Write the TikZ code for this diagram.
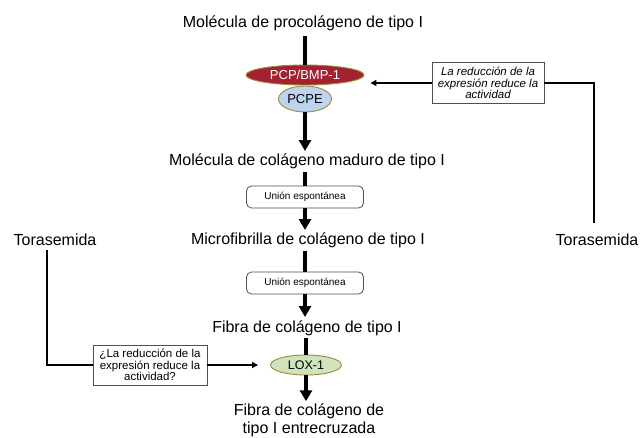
\documentclass[tikz,border=0pt]{standalone}
\usepackage{fontspec}
\setmainfont{Liberation Sans}
\usetikzlibrary{arrows.meta,shapes.geometric}
\definecolor{pcpred}{HTML}{A4212F}
\definecolor{pcpeblue}{HTML}{BDD5EC}
\definecolor{loxgreen}{HTML}{CFE3BC}
\definecolor{ellborder}{HTML}{9C8B3C}
\definecolor{boxborder}{HTML}{505050}
\begin{document}
\begin{tikzpicture}[x=1pt,y=-1pt,
  mainlbl/.style={font=\fontsize{16}{18}\selectfont, inner sep=0pt},
  axisline/.style={line width=3.2pt},
  axisarrow/.style={line width=3.2pt, -{Triangle[length=11pt,width=12pt]}},
  sideline/.style={line width=1.4pt},
  sidearrow/.style={line width=1.4pt, -{Triangle[length=6pt,width=6pt]}},
  ubox/.style={draw=boxborder, rounded corners=5pt, line width=0.8pt, minimum width=117pt, minimum height=22pt, font=\fontsize{10}{12}\selectfont, inner sep=0pt},
  qbox/.style={draw=boxborder, line width=0.8pt, align=center, font=\fontsize{11.5}{11.5}\selectfont, inner sep=1pt, fill=white},
  ell/.style={ellipse, draw=ellborder, line width=0.9pt, inner sep=0pt}
]
\useasboundingbox (0,0) rectangle (642,438);

% main column
\node[mainlbl, anchor=base] (t1) at (303,28) {Molécula de procolágeno de tipo I};
\node[ell, fill=pcpred, minimum width=118pt, minimum height=20pt, text=white, font=\fontsize{13}{13}\selectfont] (pcp) at (305,75) {PCP/BMP-1};
\node[ell, fill=pcpeblue, minimum width=53pt, minimum height=26pt, font=\fontsize{13}{13}\selectfont] (pcpe) at (305,99) {PCPE};
\node[mainlbl, anchor=base] (m2) at (307,166) {Molécula de colágeno maduro de tipo I};
\node[ubox] (b1) at (305,197) {Unión espontánea};
\node[mainlbl, anchor=base] (m3) at (308,245) {Microfibrilla de colágeno de tipo I};
\node[ubox] (b2) at (305,283) {Unión espontánea};
\node[mainlbl, anchor=base] (m4) at (307,332) {Fibra de colágeno de tipo I};
\node[ell, fill=loxgreen, minimum width=71pt, minimum height=20pt, font=\fontsize{12.5}{12.5}\selectfont] (lox) at (306,365) {LOX-1};
\node[mainlbl, align=center] (m5) at (309,420) {Fibra de colágeno de\\tipo I entrecruzada};

% side elements
\node[mainlbl, anchor=base] (tl) at (55,246) {Torasemida};
\node[mainlbl, anchor=base] (tr) at (597,246) {Torasemida};
\node[qbox, minimum width=114pt, minimum height=40pt] (ql) at (150,365) {¿La reducción de la\\expresión reduce la\\actividad?};
\node[qbox, minimum width=112pt, minimum height=41pt, font=\fontsize{11.5}{11.5}\selectfont\itshape] (qr) at (488,83) {La reducción de la\\expresión reduce la\\actividad};

% axis connectors
\draw[axisline, shorten <=4pt] (t1.south -| pcp.north) -- (pcp.north);
\draw[axisarrow, shorten >=3pt] (pcpe.south) -- (pcpe.south |- m2.north);
\draw[axisline, shorten <=2pt] (m2.south -| b1.north) -- (b1.north);
\draw[axisarrow, shorten >=3pt] (b1.south) -- (b1.south |- m3.north);
\draw[axisline, shorten <=2pt] (m3.south -| b2.north) -- (b2.north);
\draw[axisarrow, shorten >=3pt] (b2.south) -- (b2.south |- m4.north);
\draw[axisline, shorten <=2pt] (m4.south -| lox.north) -- (lox.north);
\draw[axisarrow, shorten >=2pt] (lox.south) -- (lox.south |- m5.north);

% side connectors
\draw[sideline, shorten <=4pt] ([xshift=-8pt]tl.south) |- (ql.west);
\draw[sidearrow, shorten >=12pt] (ql.east) -- (lox.west);
\draw[sideline, shorten <=11pt] ([xshift=-3pt]tr.north) |- (qr.east);
\draw[sidearrow] (qr.west) -- ([xshift=6pt]pcp.east |- qr.west);
\end{tikzpicture}
\end{document}
